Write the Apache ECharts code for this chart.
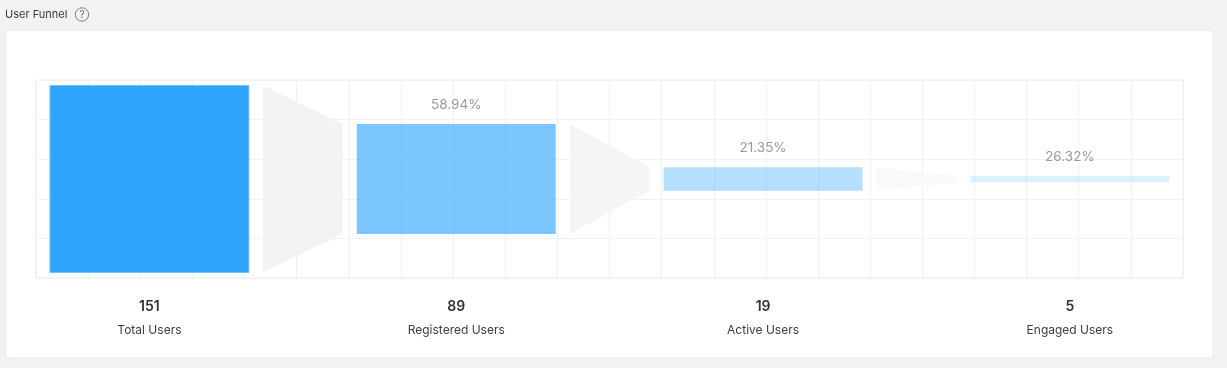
<!DOCTYPE html>
<html>
<head>
<meta charset="utf-8">
<style>html,body{margin:0;padding:0;background:#f2f2f2}#c{width:1227px;height:368px}</style>
<script src="https://cdn.jsdelivr.net/npm/echarts@6/dist/echarts.min.js"></script>
</head>
<body>
<div id="c"></div>
<script>
const stages = ['Total Users', 'Registered Users', 'Active Users', 'Engaged Users'];
const users = [151, 89, 19, 5];
const rates = ['', '58.94%', '21.35%', '26.32%'];

const FONT = 'Inter, "Noto Sans", sans-serif';
const BAR_OPACITY = [1, 0.63, 0.36, 0.16];
const LINK_COLOR = ['#f3f3f3', '#f5f5f5', '#f9f9f9'];
const PAD = 0.268, BAR_W = 3.815, LINK_W = 1.534, STEP = BAR_W + 2 * PAD + LINK_W;
const MID = 80;

const chart = echarts.init(document.getElementById('c'), null, { renderer: 'canvas' });

function renderItem(params, api) {
  const i = api.value(0), v = api.value(1);
  const x0 = PAD + i * STEP, x1 = x0 + BAR_W;
  const tl = api.coord([x0, MID + v / 2]);
  const br = api.coord([x1, MID - v / 2]);
  const floorY = api.coord([0, 0])[1];
  const cx = (tl[0] + br[0]) / 2;
  const children = [{
    type: 'rect',
    shape: { x: tl[0], y: tl[1], width: br[0] - tl[0], height: br[1] - tl[1] },
    style: i === 0
      ? { fill: '#30a5ff', stroke: '#6cbfff', lineWidth: 1 }
      : { fill: 'rgba(48,165,255,' + BAR_OPACITY[i] + ')' }
  }];
  if (i < users.length - 1) {
    const next = users[i + 1];
    const lx0 = x1 + PAD, lx1 = lx0 + LINK_W;
    children.unshift({
      type: 'polygon',
      shape: { points: [
        api.coord([lx0, MID + v / 2]),
        api.coord([lx1, MID + next / 2]),
        api.coord([lx1, MID - next / 2]),
        api.coord([lx0, MID - v / 2])
      ] },
      style: { fill: LINK_COLOR[i] }
    });
  }
  if (rates[i]) {
    children.push({
      type: 'text',
      style: { text: rates[i], x: cx, y: tl[1] - 19, align: 'center', verticalAlign: 'middle',
        font: '13.5px ' + FONT, fill: '#9a9a9a' }
    });
  }
  children.push({
    type: 'text',
    style: { text: String(v), x: cx, y: floorY + 29, align: 'center', verticalAlign: 'middle',
      font: '600 14px ' + FONT, fill: '#333333' }
  });
  children.push({
    type: 'text',
    style: { text: stages[i], x: cx, y: floorY + 52, align: 'center', verticalAlign: 'middle',
      font: '12px ' + FONT, fill: '#3d3d3d' }
  });
  return { type: 'group', children };
}

chart.setOption({
  animation: false,
  backgroundColor: '#f2f2f2',
  title: {
    text: 'User Funnel', left: 5, top: 8, padding: 0,
    textStyle: { fontFamily: FONT, fontSize: 11, fontWeight: 400, color: '#3a3a3a', lineHeight: 13 }
  },
  graphic: [
    { type: 'rect', z: -10, silent: true,
      shape: { x: 6, y: 30, width: 1207, height: 328, r: 3 },
      style: { fill: '#ffffff', stroke: '#ebebeb', lineWidth: 1 } },
    { type: 'circle', z: 5, silent: true, shape: { cx: 82, cy: 14.5, r: 6.7 },
      style: { fill: 'none', stroke: '#808080', lineWidth: 1 } },
    { type: 'text', z: 5, silent: true, x: 82, y: 14.5,
      style: { text: '?', align: 'center', verticalAlign: 'middle', font: '10px ' + FONT, fill: '#666666' } }
  ],
  grid: { left: 36, right: 44, top: 80, height: 198, show: true, backgroundColor: 'transparent',
    borderColor: '#f5f6f8', borderWidth: 2 },
  xAxis: { type: 'value', min: 0, max: 22, interval: 1,
    axisLine: { show: false }, axisTick: { show: false }, axisLabel: { show: false },
    splitLine: { show: true, lineStyle: { color: '#eff1f6', width: 1 } } },
  yAxis: { type: 'value', min: 0, max: 160, interval: 32,
    axisLine: { show: false }, axisTick: { show: false }, axisLabel: { show: false },
    splitLine: { show: true, lineStyle: { color: '#f1f2f6', width: 1 } } },
  series: [{
    type: 'custom',
    coordinateSystem: 'cartesian2d',
    clip: false,
    silent: true,
    renderItem,
    encode: { x: 0, y: 1 },
    data: users.map((v, i) => [i, v])
  }]
});
</script>
</body>
</html>
